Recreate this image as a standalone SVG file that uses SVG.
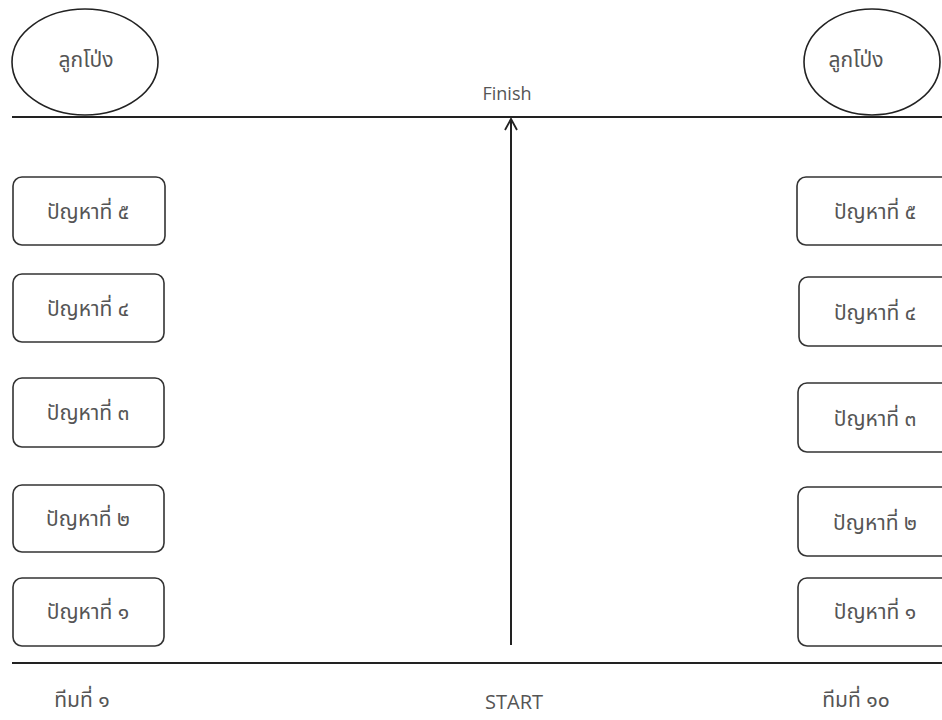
<svg xmlns="http://www.w3.org/2000/svg" width="942" height="720" viewBox="0 0 942 720">
<style>
.box{fill:#fff;stroke:#333;stroke-width:1.6}
.ell{fill:#fff;stroke:#222;stroke-width:1.6}
.t{font-family:"Noto Sans","Noto Sans Thai","Tahoma",sans-serif;font-size:21px;fill:#555}
.lat{font-family:"Open Sans","Noto Sans",sans-serif;fill:#555}
.ln{stroke:#222;stroke-width:2;fill:none}
</style>
<defs>
<marker id="arr" markerWidth="16" markerHeight="16" refX="14" refY="8" orient="auto" markerUnits="userSpaceOnUse" viewBox="0 0 16 16">
<path d="M3,2 L14,8 L3,14" fill="none" stroke="#222" stroke-width="1.8"/>
</marker>
</defs>
<rect width="942" height="720" fill="#fff"/>
<g id="connectors">
<line class="ln" x1="12" y1="117" x2="942" y2="117"/>
<line class="ln" x1="12" y1="663" x2="942" y2="663" stroke="#444" stroke-width="2.5"/>
<line class="ln" x1="511" y1="645" x2="511" y2="119" marker-end="url(#arr)"/>
</g>
<g id="balloon-left"><ellipse class="ell" cx="85" cy="62" rx="73" ry="53"/><text class="t" x="86" y="67" text-anchor="middle">ลูกโป่ง</text></g>
<g id="balloon-right"><ellipse class="ell" cx="872" cy="62" rx="68" ry="53"/><text class="t" x="856" y="67" text-anchor="middle">ลูกโป่ง</text></g>
<g id="finish"><text class="lat" font-size="18" x="507" y="100" text-anchor="middle">Finish</text></g>
<g id="start"><text class="lat" font-size="20" x="514" y="709" text-anchor="middle">START</text></g>
<g id="team1"><text class="t" x="82" y="707" text-anchor="middle">ทีมที่ ๑</text></g>
<g id="team10"><text class="t" x="856" y="707" text-anchor="middle">ทีมที่ ๑๐</text></g>
<g id="l5"><rect class="box" x="13" y="177" width="152" height="68" rx="9"/><text class="t" x="88" y="219" text-anchor="middle">ปัญหาที่ ๕</text></g>
<g id="l4"><rect class="box" x="13" y="274" width="151" height="68" rx="9"/><text class="t" x="88" y="316" text-anchor="middle">ปัญหาที่ ๔</text></g>
<g id="l3"><rect class="box" x="13" y="378" width="151" height="69" rx="9"/><text class="t" x="88" y="420" text-anchor="middle">ปัญหาที่ ๓</text></g>
<g id="l2"><rect class="box" x="13" y="485" width="151" height="67" rx="9"/><text class="t" x="88" y="526" text-anchor="middle">ปัญหาที่ ๒</text></g>
<g id="l1"><rect class="box" x="13" y="578" width="151" height="68" rx="9"/><text class="t" x="88" y="619" text-anchor="middle">ปัญหาที่ ๑</text></g>
<g id="r5"><rect class="box" x="797" y="177" width="160" height="68" rx="9"/><text class="t" x="875" y="219" text-anchor="middle">ปัญหาที่ ๕</text></g>
<g id="r4"><rect class="box" x="799" y="277" width="160" height="69" rx="9"/><text class="t" x="875" y="320" text-anchor="middle">ปัญหาที่ ๔</text></g>
<g id="r3"><rect class="box" x="798" y="383" width="160" height="69" rx="9"/><text class="t" x="875" y="426" text-anchor="middle">ปัญหาที่ ๓</text></g>
<g id="r2"><rect class="box" x="798" y="487" width="160" height="69" rx="9"/><text class="t" x="875" y="530" text-anchor="middle">ปัญหาที่ ๒</text></g>
<g id="r1"><rect class="box" x="798" y="578" width="160" height="68" rx="9"/><text class="t" x="875" y="619" text-anchor="middle">ปัญหาที่ ๑</text></g>
</svg>
